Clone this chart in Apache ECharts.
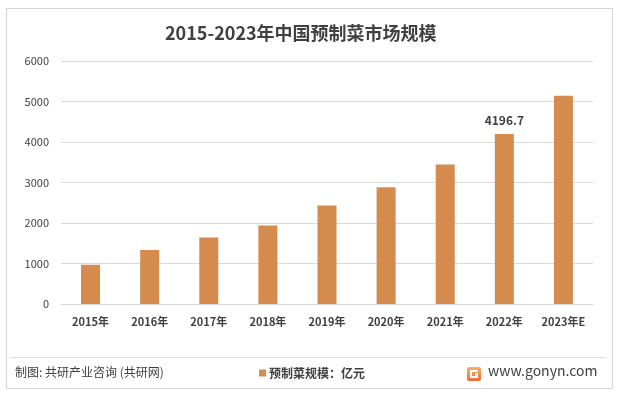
<!DOCTYPE html>
<html><head><meta charset="utf-8">
<script src="https://cdn.jsdelivr.net/npm/echarts@6/dist/echarts.min.js"></script>
<style>html,body{margin:0;padding:0;background:#fff;}#c{width:619px;height:394px;}</style>
</head><body><div id="c"></div>
<script>
const categories = ['2015年','2016年','2017年','2018年','2019年','2020年','2021年','2022年','2023年E'];
const marketSize = [969, 1333, 1639, 1937, 2434, 2881, 3444, 4196.7, 5141];
const labeledIndex = 7;
const yTicks = {min: 0, max: 6000, interval: 1000};
const seriesName = '预制菜规模：亿元';
const titleText = '2015-2023年中国预制菜市场规模';
const sourceText = '制图: 共研产业咨询 (共研网)';
const siteText = 'www.gonyn.com';

const FONT = '"Noto Sans CJK SC","Noto Sans",sans-serif';
const chart = echarts.init(document.getElementById('c'), null, {renderer: 'canvas'});
chart.setOption({
  backgroundColor: '#fff',
  textStyle: {fontFamily: FONT},
  animation: false,
  title: {
    text: titleText, left: 160, top: 19,
    textStyle: {fontSize: 18, fontWeight: 'bold', color: '#404040', fontFamily: FONT}
  },
  legend: {
    data: [seriesName], left: 254, top: 362, icon: 'rect',
    itemWidth: 7, itemHeight: 7, itemGap: 4,
    textStyle: {fontSize: 12, fontWeight: 'bold', color: '#404040', fontFamily: FONT, padding: [0,0,0,-2]}
  },
  grid: {left: 61, right: 26, top: 61, bottom: 90, containLabel: false},
  xAxis: {
    type: 'category', data: categories,
    axisLine: {lineStyle: {color: '#d9d9d9', width: 1}},
    axisTick: {show: false},
    axisLabel: {fontSize: 11, fontWeight: 'bold', color: '#404040', margin: 12, interval: 0, fontFamily: FONT}
  },
  yAxis: {
    type: 'value', min: yTicks.min, max: yTicks.max, interval: yTicks.interval,
    axisLine: {show: false}, axisTick: {show: false},
    axisLabel: {fontSize: 11, color: '#404040', margin: 12, fontFamily: FONT, formatter: v => String(v)},
    splitLine: {lineStyle: {color: '#d9d9d9', width: 1}}
  },
  series: [{
    name: seriesName, type: 'bar', barWidth: 19,
    itemStyle: {color: '#d48b4d'},
    data: marketSize.map((v, i) => i === labeledIndex ? {
      value: v,
      label: {show: true, position: 'top', distance: 8, fontSize: 12, fontWeight: 'bold', color: '#404040', fontFamily: FONT}
    } : v)
  }],
  graphic: [
    {type: 'rect', z: -1, shape: {x: 6.5, y: 8.5, width: 606, height: 380}, style: {fill: 'none', stroke: '#d4d4d4', lineWidth: 1}},
    {type: 'line', shape: {x1: 10, y1: 357.5, x2: 606, y2: 357.5}, style: {stroke: '#e0e0e0', lineWidth: 1}},
    {type: 'text', left: 15, top: 366, style: {text: sourceText, fontSize: 12, fill: '#404040', fontFamily: FONT}},
    {type: 'rect', shape: {x: 467, y: 367, width: 14, height: 14, r: 2},
      style: {fill: new echarts.graphic.LinearGradient(0, 0, 0, 1, [{offset: 0, color: '#f7b267'}, {offset: 1, color: '#ee6a3a'}])}},
    {type: 'rect', shape: {x: 470, y: 370, width: 8, height: 2}, style: {fill: '#fff'}},
    {type: 'rect', shape: {x: 470, y: 370, width: 2, height: 8}, style: {fill: '#fff'}},
    {type: 'rect', shape: {x: 470, y: 376, width: 8, height: 2}, style: {fill: '#fff'}},
    {type: 'rect', shape: {x: 475, y: 373, width: 3, height: 5}, style: {fill: '#fff'}},
    {type: 'text', left: 488, top: 364, style: {text: siteText, fontSize: 14, fill: '#404040', fontFamily: FONT}}
  ]
});
</script></body></html>
